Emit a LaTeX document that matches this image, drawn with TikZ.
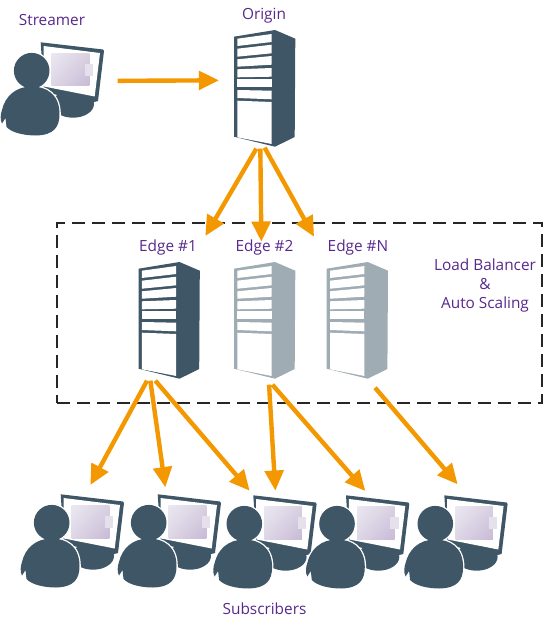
\documentclass[tikz,border=0pt]{standalone}
\usepackage{fontspec}
\setmainfont{Open Sans}
\usetikzlibrary{arrows.meta,calc,shadings}
\definecolor{slate}{RGB}{63,86,102}
\definecolor{ashgray}{RGB}{160,172,179}
\definecolor{flowcolor}{RGB}{243,152,0}
\definecolor{captioncolor}{RGB}{88,40,140}
\definecolor{thumbul}{RGB}{235,232,241}
\definecolor{thumbur}{RGB}{217,209,226}
\definecolor{thumbll}{RGB}{221,214,230}
\definecolor{thumblr}{RGB}{200,186,214}
\definecolor{thumbtab}{RGB}{230,224,236}
\newcommand{\viewerbody}{(31.7,28.7) circle (17.8)
  (31.7,44.5) .. controls (46,44.5) and (59.5,52) .. (59.5,72)
  .. controls (59.5,85) and (54,93) .. (36,93.5)
  .. controls (25,93.5) and (12,91) .. (6.5,85) -- (5.5,76) -- (2,81.5)
  .. controls (0,78) and (0.5,72) .. (2,68)
  .. controls (5,55) and (15,44.5) .. (31.7,44.5) -- cycle}
\tikzset{
  arrowline/.style={flowcolor,line width=2.5pt,-{Triangle[length=11.5pt,width=10.5pt]}},
  labeltext/.style={captioncolor,font=\fontsize{8.75}{10.8}\selectfont,inner sep=0pt},
  serverbox/.style={anchor=north west,minimum width=1.24cm,minimum height=2.34cm,inner sep=0pt},
  viewerbox/.style={anchor=north west,minimum width=2.08cm,minimum height=1.88cm,inner sep=0pt},
  pics/serverpic/.style={code={
    \fill[#1] (0,6.7) -- (41,0) -- (61.3,8.7) -- (60.7,107) -- (41,116.7) -- (0,106.7) -- cycle;
    \fill[white] (3.3,8.7) -- (37.7,4) -- (37.7,12) -- (3.3,16) -- cycle;
    \fill[white] (3.3,18.7) -- (37.7,14.7) -- (37.7,23.3) -- (3.3,26.7) -- cycle;
    \fill[white] (3.3,29.3) -- (37.7,26) -- (37.7,34.7) -- (3.3,36.7) -- cycle;
    \fill[white] (3.3,39.3) -- (37.7,38) -- (37.7,46.7) -- (3.3,47.3) -- cycle;
    \fill[white] (3.3,49.3) -- (37.7,49.3) -- (37.7,57.3) -- (3.3,57.3) -- cycle;
    \fill[white] (3.3,60) -- (37.7,60.7) -- (37.7,69.3) -- (3.3,68) -- cycle;
    \fill[white] (3.3,70.7) -- (37.7,72) -- (37.7,114) -- (3.3,107.3) -- cycle;
  }},
  pics/viewerpic/.style={code={
    \fill[slate] (73,62) ellipse (21 and 13.7);
    \fill[slate] (40.7,0.3) -- (103,7.5) -- (104,9) -- (98,59) -- (92,60.5) -- (44,50) -- cycle;
    \fill[white] (43.5,4) -- (100,11) -- (94.7,54.5) -- (44,44.5) -- cycle;
    \shade[upper left=thumbul,upper right=thumbur,lower left=thumbll,lower right=thumblr]
      (51.7,11.3) rectangle (89.3,44);
    \fill[thumbtab] (85,22) rectangle (93.3,34);
    \filldraw[white,line width=1.5pt] \viewerbody;
    \fill[slate] \viewerbody;
  }},
}
\begin{document}
\begin{tikzpicture}[x=0.02cm,y=-0.02cm]
  \useasboundingbox (0,0) rectangle (545,625);
  % load balanced group
  \node[draw=black!85,dash pattern=on 7.4pt off 4pt,line width=1.1pt,anchor=north west,inner sep=0pt,minimum width=9.7cm,minimum height=3.6cm] (group) at (56,222) {};
  % servers
  \node[serverbox] (origin) at (234,30) {};
  \pic at (origin.north west) {serverpic=slate};
  \node[serverbox] (edgea) at (138.5,262) {};
  \pic at (edgea.north west) {serverpic=slate};
  \node[serverbox] (edgeb) at (234,262) {};
  \pic at (edgeb.north west) {serverpic=ashgray};
  \node[serverbox] (edgen) at (326.7,262) {};
  \pic at (edgen.north west) {serverpic=ashgray};
  % people
  \node[viewerbox] (streamer) at (0,42) {};
  \pic at (streamer.north west) {viewerpic};
  \foreach \name/\px/\py in {suba/20/494,subb/117/494,subc/212.6/495,subd/305.3/495,sube/403.6/495}{
    \node[viewerbox] (\name) at (\px,\py) {};
    \pic at (\name.north west) {viewerpic};
  }
  % labels
  \node[labeltext] (streamerlabel) at (52,20) {Streamer};
  \node[labeltext] (originlabel) at (264,16) {Origin};
  \node[labeltext] (edgealabel) at (168,247.5) {Edge \#1};
  \node[labeltext] (edgeblabel) at (264.5,247.5) {Edge \#2};
  \node[labeltext] (edgenlabel) at (358,247.5) {Edge \#N};
  \node[labeltext,align=center] (scaling) at (485,285.5) {Load Balancer\\\&\\Auto Scaling};
  \node[labeltext] (subscribers) at (264.5,608.5) {Subscribers};
  % flows
  \draw[arrowline] ($(streamer.east)+(13,-8.5)$) -- ($(origin.west)+(-15,-8.5)$);
  \draw[arrowline] ($(origin.south)+(-9,1)$) -- ($(edgea.north)+(35.5,-26)$);
  \draw[arrowline] ($(origin.south)+(-5,1)$) -- ($(edgeb.north)+(-4,-20.3)$);
  \draw[arrowline] ($(origin.south)+(-0.7,0)$) -- ($(edgen.north)+(-44,-25.3)$);
  \draw[arrowline] ($(edgea.south)+(-22.8,1)$) -- ($(suba.north)+(18,-9)$);
  \draw[arrowline] ($(edgea.south)+(-19.5,1)$) -- ($(subb.north)+(-4,-6.7)$);
  \draw[arrowline] ($(edgea.south)+(-14.5,1)$) -- ($(subc.north)+(-15.3,-4.3)$);
  \draw[arrowline] ($(edgeb.south)+(3.7,5)$) -- ($(subc.north)+(10.4,-4.3)$);
  \draw[arrowline] ($(edgeb.south)+(7,5)$) -- ($(subd.north)+(7.7,-4)$);
  \draw[arrowline] ($(edgen.south)+(17,8)$) -- ($(sube.north)+(1.7,-10.7)$);
\end{tikzpicture}
\end{document}
